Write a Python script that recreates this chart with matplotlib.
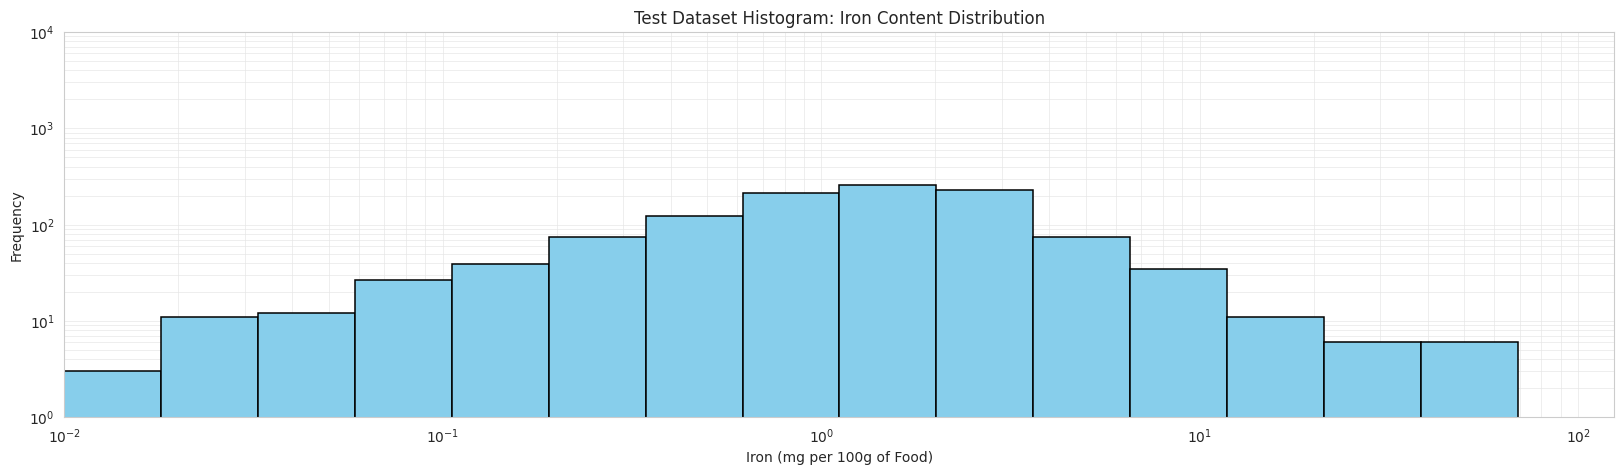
import numpy as np
import matplotlib
matplotlib.use("Agg")
import matplotlib.pyplot as plt
import seaborn as sns

# histogram counts (15 log-spaced bins)
counts = [3, 11, 12, 27, 39, 74, 122, 213, 259, 229, 75, 35, 11, 6, 6]
bin_min = 0.01
bin_max = 69.2

edges = np.logspace(np.log10(bin_min), np.log10(bin_max), len(counts) + 1)

sns.set_style("whitegrid")
plt.rcParams['font.family'] = ['DejaVu Sans']

fig, ax = plt.subplots(figsize=(16.24, 4.75), dpi=100)
ax.hist(edges[:-1], bins=edges, weights=counts, color='skyblue', edgecolor='black', linewidth=1.1)
ax.set_xscale('log')
ax.set_yscale('log')
ax.set_xlim(0.01, 124.6)
ax.set_ylim(1, 1e4)
ax.grid(True, which='both', color='#e6e6e6', linewidth=0.6, alpha=0.8)
ax.set_axisbelow(True)
ax.set_title('Test Dataset Histogram: Iron Content Distribution', fontsize=12)
ax.set_xlabel('Iron (mg per 100g of Food)')
ax.set_ylabel('Frequency')

plt.tight_layout(pad=0.7)
plt.savefig('out.png')
